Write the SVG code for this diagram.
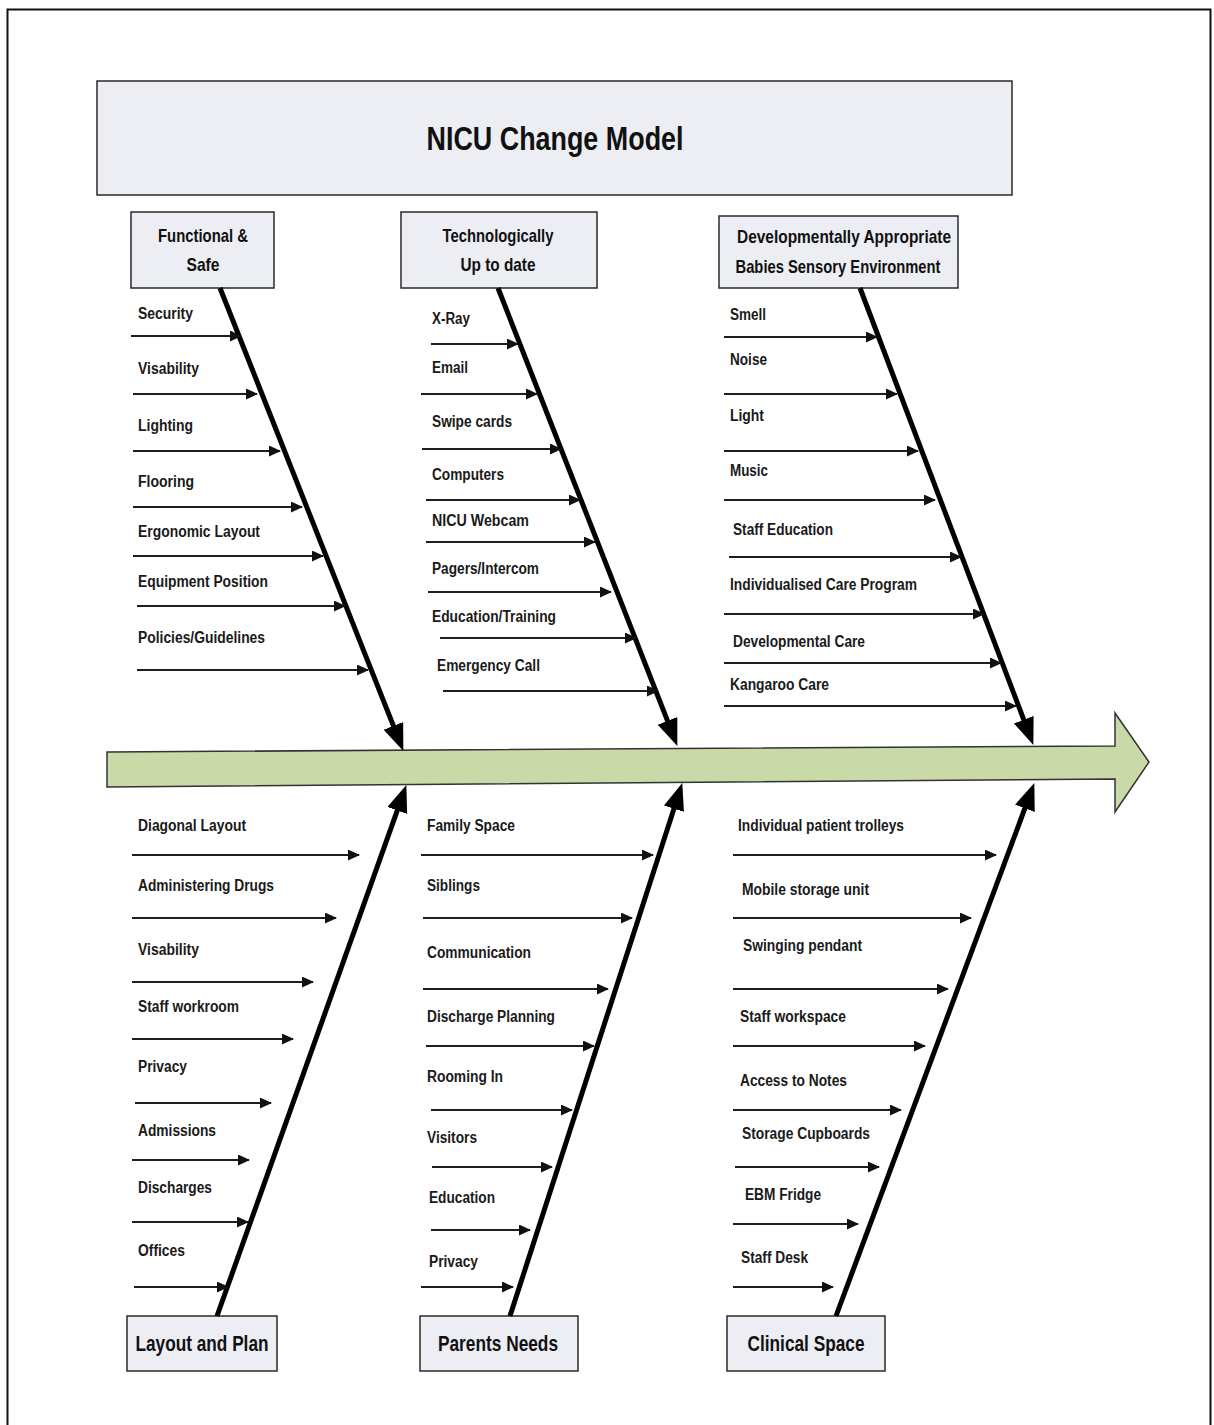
<svg xmlns="http://www.w3.org/2000/svg" width="1214" height="1425" viewBox="0 0 1214 1425">
<style>
.box{fill:#eceef3;stroke:#2a2a2a;stroke-width:1.5}
.t{font-family:"Liberation Sans",Arial,sans-serif;font-weight:bold;font-size:16px;fill:#1a1a1a}
.bt{font-family:"Liberation Sans",Arial,sans-serif;font-weight:bold;font-size:19px;fill:#111;text-anchor:middle}
.bb{font-family:"Liberation Sans",Arial,sans-serif;font-weight:bold;font-size:22px;fill:#111;text-anchor:middle}
.sa{stroke:#1e1e1e;stroke-width:1.8;fill:none;marker-end:url(#sm)}
.bone{stroke:#000;stroke-width:5;fill:none;marker-end:url(#bg)}
</style>
<defs>
<marker id="sm" markerUnits="userSpaceOnUse" markerWidth="13" markerHeight="12" refX="11" refY="5.5" orient="auto"><path d="M0,0 L12,5.5 L0,11 z" fill="#111"/></marker>
<marker id="bg" markerUnits="userSpaceOnUse" markerWidth="30" markerHeight="22" refX="6" refY="10.5" orient="auto"><path d="M0,0 L27,10.5 L0,21 z" fill="#000"/></marker>
</defs>
<rect x="0" y="0" width="1214" height="1425" fill="#fff"/>
<path d="M7.5,1425 L7.5,9.5 L1210.5,9.5 L1210.5,1425" fill="none" stroke="#111" stroke-width="2"/>

<g id="title">
<rect class="box" x="97" y="81" width="915" height="114"/>
<text x="555" y="150" font-family="'Liberation Sans',Arial,sans-serif" font-weight="bold" font-size="34" text-anchor="middle" textLength="257" lengthAdjust="spacingAndGlyphs" fill="#111">NICU Change Model</text>
</g>

<g id="spine">
<polygon points="107,752 1115,746 1115,713 1149,762 1115,812 1115,779 107,787" fill="#c9d9a8" stroke="#333" stroke-width="1.5"/>
</g>

<g id="cat-functional">
<rect class="box" x="131" y="212" width="143" height="76"/>
<text class="bt" x="203" y="242" textLength="90" lengthAdjust="spacingAndGlyphs">Functional &amp;</text>
<text class="bt" x="203" y="271" textLength="33" lengthAdjust="spacingAndGlyphs">Safe</text>
</g>
<g id="cat-tech">
<rect class="box" x="401" y="212" width="196" height="76"/>
<text class="bt" x="498" y="242" textLength="111" lengthAdjust="spacingAndGlyphs">Technologically</text>
<text class="bt" x="498" y="271" textLength="75" lengthAdjust="spacingAndGlyphs">Up to date</text>
</g>
<g id="cat-dev">
<rect class="box" x="719" y="216" width="239" height="72"/>
<text class="bt" x="844" y="243" textLength="214" lengthAdjust="spacingAndGlyphs">Developmentally Appropriate</text>
<text class="bt" x="838" y="273" textLength="205" lengthAdjust="spacingAndGlyphs">Babies Sensory Environment</text>
</g>
<g id="cat-layout">
<rect class="box" x="127" y="1316" width="150" height="55"/>
<text class="bb" x="202" y="1351" textLength="133" lengthAdjust="spacingAndGlyphs">Layout and Plan</text>
</g>
<g id="cat-parents">
<rect class="box" x="420" y="1316" width="158" height="55"/>
<text class="bb" x="498" y="1351" textLength="120" lengthAdjust="spacingAndGlyphs">Parents Needs</text>
</g>
<g id="cat-clinical">
<rect class="box" x="727" y="1316" width="158" height="55"/>
<text class="bb" x="806" y="1351" textLength="117" lengthAdjust="spacingAndGlyphs">Clinical Space</text>
</g>

<g id="connectors">
<line class="bone" x1="220" y1="288" x2="395.6" y2="731.4"/>
<line class="bone" x1="498" y1="288" x2="669.7" y2="726.4"/>
<line class="bone" x1="860" y1="288" x2="1025.9" y2="725.3"/>
<line class="bone" x1="217" y1="1316" x2="399.3" y2="804.8"/>
<line class="bone" x1="510" y1="1316" x2="675.8" y2="803"/>
<line class="bone" x1="836" y1="1316" x2="1027" y2="802.7"/>

<line class="sa" x1="131" y1="336" x2="241" y2="336"/>
<line class="sa" x1="133" y1="394" x2="257" y2="394"/>
<line class="sa" x1="133" y1="451" x2="280" y2="451"/>
<line class="sa" x1="133" y1="507" x2="302" y2="507"/>
<line class="sa" x1="133" y1="556" x2="323" y2="556"/>
<line class="sa" x1="137" y1="606" x2="345" y2="606"/>
<line class="sa" x1="137" y1="670" x2="368" y2="670"/>

<line class="sa" x1="431" y1="344" x2="518" y2="344"/>
<line class="sa" x1="421" y1="394" x2="537" y2="394"/>
<line class="sa" x1="422" y1="449" x2="561" y2="449"/>
<line class="sa" x1="426" y1="500" x2="580" y2="500"/>
<line class="sa" x1="426" y1="542" x2="595" y2="542"/>
<line class="sa" x1="428" y1="592" x2="611" y2="592"/>
<line class="sa" x1="440" y1="638" x2="636" y2="638"/>
<line class="sa" x1="443" y1="691" x2="658" y2="691"/>

<line class="sa" x1="724" y1="337" x2="877" y2="337"/>
<line class="sa" x1="724" y1="394" x2="897" y2="394"/>
<line class="sa" x1="724" y1="451" x2="918" y2="451"/>
<line class="sa" x1="724" y1="500" x2="935" y2="500"/>
<line class="sa" x1="729" y1="557" x2="961" y2="557"/>
<line class="sa" x1="724" y1="614" x2="984" y2="614"/>
<line class="sa" x1="724" y1="663" x2="1001" y2="663"/>
<line class="sa" x1="724" y1="706" x2="1016" y2="706"/>

<line class="sa" x1="132" y1="855" x2="359" y2="855"/>
<line class="sa" x1="132" y1="918" x2="336" y2="918"/>
<line class="sa" x1="132" y1="982" x2="313" y2="982"/>
<line class="sa" x1="132" y1="1039" x2="293" y2="1039"/>
<line class="sa" x1="135" y1="1103" x2="271" y2="1103"/>
<line class="sa" x1="132" y1="1160" x2="249" y2="1160"/>
<line class="sa" x1="132" y1="1222" x2="248" y2="1222"/>
<line class="sa" x1="134" y1="1287" x2="228" y2="1287"/>

<line class="sa" x1="421" y1="855" x2="653" y2="855"/>
<line class="sa" x1="423" y1="918" x2="632" y2="918"/>
<line class="sa" x1="423" y1="989" x2="608" y2="989"/>
<line class="sa" x1="426" y1="1046" x2="594" y2="1046"/>
<line class="sa" x1="431" y1="1110" x2="572" y2="1110"/>
<line class="sa" x1="432" y1="1167" x2="552" y2="1167"/>
<line class="sa" x1="431" y1="1230" x2="530" y2="1230"/>
<line class="sa" x1="421" y1="1287" x2="513" y2="1287"/>

<line class="sa" x1="733" y1="855" x2="996" y2="855"/>
<line class="sa" x1="733" y1="918" x2="971" y2="918"/>
<line class="sa" x1="733" y1="989" x2="948" y2="989"/>
<line class="sa" x1="733" y1="1046" x2="925" y2="1046"/>
<line class="sa" x1="733" y1="1110" x2="901" y2="1110"/>
<line class="sa" x1="735" y1="1167" x2="879" y2="1167"/>
<line class="sa" x1="733" y1="1224" x2="858" y2="1224"/>
<line class="sa" x1="733" y1="1287" x2="833" y2="1287"/>
</g>

<g id="items-functional">
<text class="t" x="138" y="319" textLength="55" lengthAdjust="spacingAndGlyphs">Security</text>
<text class="t" x="138" y="374" textLength="61" lengthAdjust="spacingAndGlyphs">Visability</text>
<text class="t" x="138" y="431" textLength="55" lengthAdjust="spacingAndGlyphs">Lighting</text>
<text class="t" x="138" y="487" textLength="56" lengthAdjust="spacingAndGlyphs">Flooring</text>
<text class="t" x="138" y="537" textLength="122" lengthAdjust="spacingAndGlyphs">Ergonomic Layout</text>
<text class="t" x="138" y="587" textLength="130" lengthAdjust="spacingAndGlyphs">Equipment Position</text>
<text class="t" x="138" y="643" textLength="127" lengthAdjust="spacingAndGlyphs">Policies/Guidelines</text>
</g>
<g id="items-tech">
<text class="t" x="432" y="324" textLength="38" lengthAdjust="spacingAndGlyphs">X-Ray</text>
<text class="t" x="432" y="373" textLength="36" lengthAdjust="spacingAndGlyphs">Email</text>
<text class="t" x="432" y="427" textLength="80" lengthAdjust="spacingAndGlyphs">Swipe cards</text>
<text class="t" x="432" y="480" textLength="72" lengthAdjust="spacingAndGlyphs">Computers</text>
<text class="t" x="432" y="526" textLength="97" lengthAdjust="spacingAndGlyphs">NICU  Webcam</text>
<text class="t" x="432" y="574" textLength="107" lengthAdjust="spacingAndGlyphs">Pagers/Intercom</text>
<text class="t" x="432" y="622" textLength="124" lengthAdjust="spacingAndGlyphs">Education/Training</text>
<text class="t" x="437" y="671" textLength="103" lengthAdjust="spacingAndGlyphs">Emergency Call</text>
</g>
<g id="items-dev">
<text class="t" x="730" y="320" textLength="36" lengthAdjust="spacingAndGlyphs">Smell</text>
<text class="t" x="730" y="365" textLength="37" lengthAdjust="spacingAndGlyphs">Noise</text>
<text class="t" x="730" y="421" textLength="34" lengthAdjust="spacingAndGlyphs">Light</text>
<text class="t" x="730" y="476" textLength="38" lengthAdjust="spacingAndGlyphs">Music</text>
<text class="t" x="733" y="535" textLength="100" lengthAdjust="spacingAndGlyphs">Staff Education</text>
<text class="t" x="730" y="590" textLength="187" lengthAdjust="spacingAndGlyphs">Individualised Care Program</text>
<text class="t" x="733" y="647" textLength="132" lengthAdjust="spacingAndGlyphs">Developmental Care</text>
<text class="t" x="730" y="690" textLength="99" lengthAdjust="spacingAndGlyphs">Kangaroo Care</text>
</g>
<g id="items-layout">
<text class="t" x="138" y="831" textLength="108" lengthAdjust="spacingAndGlyphs">Diagonal Layout</text>
<text class="t" x="138" y="891" textLength="136" lengthAdjust="spacingAndGlyphs">Administering Drugs</text>
<text class="t" x="138" y="955" textLength="61" lengthAdjust="spacingAndGlyphs">Visability</text>
<text class="t" x="138" y="1012" textLength="101" lengthAdjust="spacingAndGlyphs">Staff workroom</text>
<text class="t" x="138" y="1072" textLength="49" lengthAdjust="spacingAndGlyphs">Privacy</text>
<text class="t" x="138" y="1136" textLength="78" lengthAdjust="spacingAndGlyphs">Admissions</text>
<text class="t" x="138" y="1193" textLength="74" lengthAdjust="spacingAndGlyphs">Discharges</text>
<text class="t" x="138" y="1256" textLength="47" lengthAdjust="spacingAndGlyphs">Offices</text>
</g>
<g id="items-parents">
<text class="t" x="427" y="831" textLength="88" lengthAdjust="spacingAndGlyphs">Family Space</text>
<text class="t" x="427" y="891" textLength="53" lengthAdjust="spacingAndGlyphs">Siblings</text>
<text class="t" x="427" y="958" textLength="104" lengthAdjust="spacingAndGlyphs">Communication</text>
<text class="t" x="427" y="1022" textLength="128" lengthAdjust="spacingAndGlyphs">Discharge Planning</text>
<text class="t" x="427" y="1082" textLength="76" lengthAdjust="spacingAndGlyphs">Rooming In</text>
<text class="t" x="427" y="1143" textLength="50" lengthAdjust="spacingAndGlyphs">Visitors</text>
<text class="t" x="429" y="1203" textLength="66" lengthAdjust="spacingAndGlyphs">Education</text>
<text class="t" x="429" y="1267" textLength="49" lengthAdjust="spacingAndGlyphs">Privacy</text>
</g>
<g id="items-clinical">
<text class="t" x="738" y="831" textLength="166" lengthAdjust="spacingAndGlyphs">Individual patient trolleys</text>
<text class="t" x="742" y="895" textLength="127" lengthAdjust="spacingAndGlyphs">Mobile storage unit</text>
<text class="t" x="743" y="951" textLength="119" lengthAdjust="spacingAndGlyphs">Swinging pendant</text>
<text class="t" x="740" y="1022" textLength="106" lengthAdjust="spacingAndGlyphs">Staff workspace</text>
<text class="t" x="740" y="1086" textLength="107" lengthAdjust="spacingAndGlyphs">Access to Notes</text>
<text class="t" x="742" y="1139" textLength="128" lengthAdjust="spacingAndGlyphs">Storage Cupboards</text>
<text class="t" x="745" y="1200" textLength="76" lengthAdjust="spacingAndGlyphs">EBM Fridge</text>
<text class="t" x="741" y="1263" textLength="67" lengthAdjust="spacingAndGlyphs">Staff Desk</text>
</g>
</svg>
